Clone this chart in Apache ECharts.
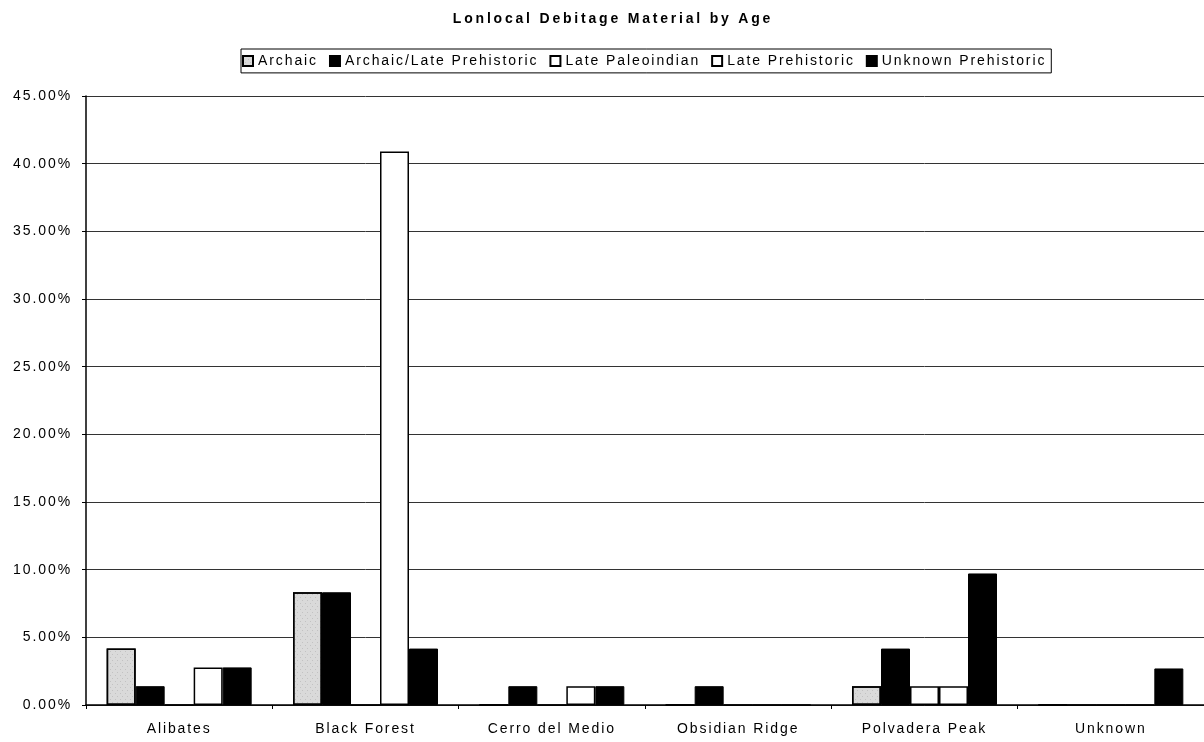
<!DOCTYPE html>
<html>
<head>
<meta charset="utf-8">
<script src="https://cdn.jsdelivr.net/npm/echarts@6/dist/echarts.min.js"></script>
<style>
html,body{margin:0;padding:0;background:#fff;}
#chart{width:1204px;height:742px;}
</style>
</head>
<body>
<div id="chart"></div>
<script>
var titleText = 'Lonlocal Debitage Material by Age';
var categories = ['Alibates', 'Black Forest', 'Cerro del Medio', 'Obsidian Ridge', 'Polvadera Peak', 'Unknown'];
var seriesNames = ['Archaic', 'Archaic/Late Prehistoric', 'Late Paleoindian', 'Late Prehistoric', 'Unknown Prehistoric'];
var archaic = [4.17, 8.33, 0, 0, 1.39, 0];
var archaicLatePrehistoric = [1.39, 8.33, 1.39, 1.39, 4.17, 0];
var latePaleoindian = [0, 0, 0, 0, 1.39, 0];
var latePrehistoric = [2.78, 40.9, 1.39, 0, 1.39, 0];
var unknownPrehistoric = [2.78, 4.17, 1.39, 0, 9.72, 2.7];
var yTicks = [0, 5, 10, 15, 20, 25, 30, 35, 40, 45];

// Wide tracking like the original (Excel-style spaced Arial)
(function () {
  var P = CanvasRenderingContext2D.prototype;
  if (!('letterSpacing' in P)) return;
  function setLS(ctx) { ctx.letterSpacing = /bold/.test(ctx.font) ? '2.8px' : '1.9px'; }
  var f = P.fillText, m = P.measureText, s = P.strokeText;
  P.fillText = function () { setLS(this); return f.apply(this, arguments); };
  P.strokeText = function () { setLS(this); return s.apply(this, arguments); };
  P.measureText = function () { setLS(this); return m.apply(this, arguments); };
})();

var FONT = '"Liberation Sans", Arial, sans-serif';
var styles = [
  {color: '#dadada', borderColor: '#000', borderWidth: 1.5,
   decal: {symbol: 'circle', symbolSize: 0.6, color: 'rgba(40,40,40,0.6)', dashArrayX: [[1, 4], [0, 2, 1, 2]], dashArrayY: [1, 2], rotation: 0}},
  {color: '#000', borderColor: '#000', borderWidth: 1},
  {color: '#fff', borderColor: '#000', borderWidth: 1.5},
  {color: '#fff', borderColor: '#000', borderWidth: 1.5},
  {color: '#000', borderColor: '#000', borderWidth: 1}
];
var dataSets = [archaic, archaicLatePrehistoric, latePaleoindian, latePrehistoric, unknownPrehistoric];

var chart = echarts.init(document.getElementById('chart'), null, {renderer: 'canvas'});
chart.setOption({
  animation: false,
  backgroundColor: '#fff',
  title: {
    text: titleText,
    left: 608, textAlign: 'center', top: 6,
    textStyle: {fontFamily: FONT, fontSize: 14, fontWeight: 'bold', color: '#000'}
  },
  legend: {
    data: seriesNames,
    left: 241, top: 49,
    orient: 'horizontal',
    borderColor: '#000', borderWidth: 1,
    padding: [4, 5, 4, 1],
    itemWidth: 10, itemHeight: 10, itemGap: 11,
    icon: 'rect',
    textStyle: {fontFamily: FONT, fontSize: 14, color: '#000'},
    selectedMode: false
  },
  grid: {left: 86, right: 0, top: 96, bottom: 37, containLabel: false},
  xAxis: {
    type: 'category',
    data: categories,
    axisLine: {lineStyle: {color: '#000', width: 1.5}},
    axisTick: {show: true, length: 4, alignWithLabel: false, lineStyle: {color: '#000'}},
    axisLabel: {fontFamily: FONT, fontSize: 14, color: '#000', margin: 16},
    splitLine: {show: false}
  },
  yAxis: {
    type: 'value',
    min: yTicks[0], max: yTicks[yTicks.length - 1], interval: 5,
    axisLine: {show: true, lineStyle: {color: '#000', width: 1.5}},
    axisTick: {show: true, length: 4, lineStyle: {color: '#000'}},
    axisLabel: {fontFamily: FONT, fontSize: 14, color: '#000', margin: 14,
      formatter: function (v) { return v.toFixed(2) + '%'; }},
    splitLine: {show: true, lineStyle: {color: '#333', width: 1}}
  },
  series: seriesNames.map(function (name, i) {
    return {
      name: name,
      type: 'bar',
      data: dataSets[i],
      barWidth: 29,
      barGap: '0%',
      itemStyle: styles[i]
    };
  })
});
</script>
</body>
</html>
